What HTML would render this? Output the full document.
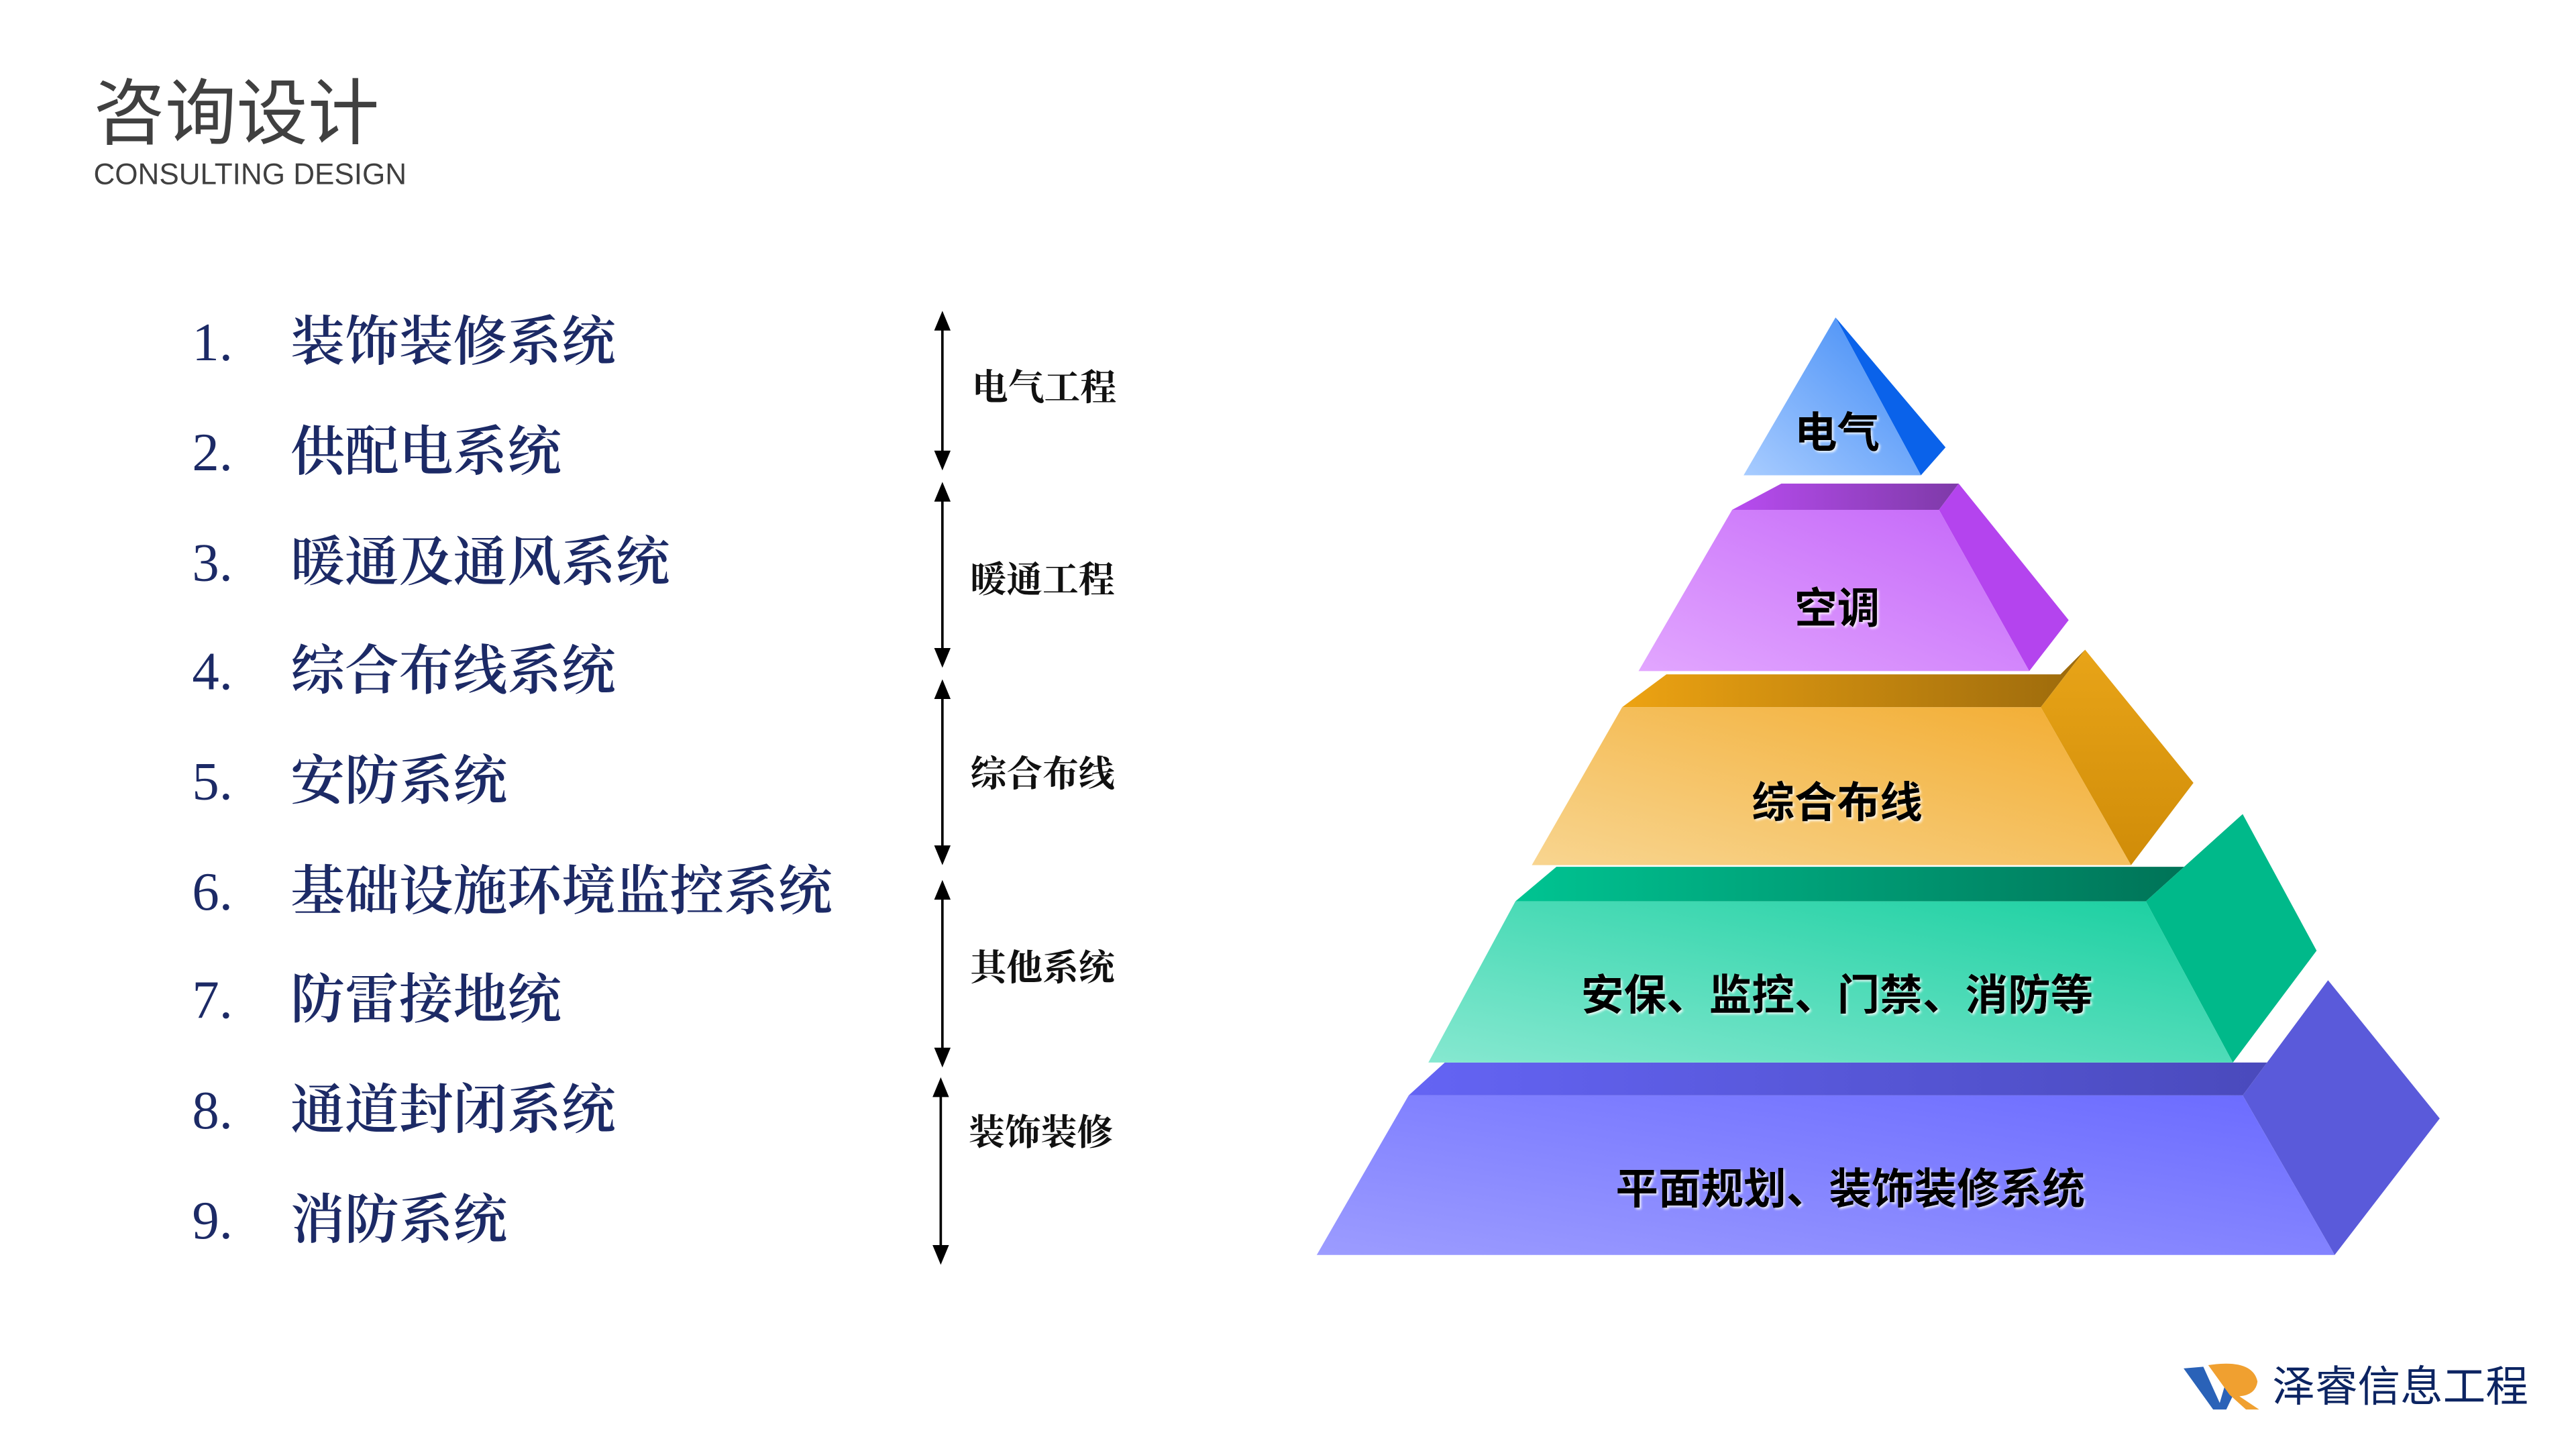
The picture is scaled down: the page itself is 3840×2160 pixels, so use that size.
<!DOCTYPE html>
<html><head><meta charset="utf-8"><style>
html,body{margin:0;padding:0;background:#fff;}
svg{display:block;}
.t{font-family:"Liberation Sans","Noto Sans CJK SC",sans-serif;}
.s{font-family:"Liberation Serif","Noto Serif CJK SC",serif;}
</style></head><body>
<svg width="3840" height="2160" viewBox="0 0 1569 881" preserveAspectRatio="none" xmlns="http://www.w3.org/2000/svg">
<defs>
<linearGradient id="bF" x1="0" y1="1" x2="1" y2="0"><stop offset="0" stop-color="#a8ccff"/><stop offset="1" stop-color="#3c88f5"/></linearGradient>
<linearGradient id="pF" x1="0" y1="1" x2="1" y2="0"><stop offset="0" stop-color="#e2a6ff"/><stop offset="1" stop-color="#c466f8"/></linearGradient>
<linearGradient id="pT" x1="0" y1="0" x2="1" y2="0"><stop offset="0" stop-color="#b84cf0"/><stop offset="1" stop-color="#7e3aa8"/></linearGradient>
<linearGradient id="oF" x1="0" y1="1" x2="1" y2="0"><stop offset="0" stop-color="#f8d590"/><stop offset="1" stop-color="#f2ac30"/></linearGradient>
<linearGradient id="oT" x1="0" y1="0" x2="1" y2="0"><stop offset="0" stop-color="#eda312"/><stop offset="1" stop-color="#9c6a0c"/></linearGradient>
<linearGradient id="oS" x1="0" y1="0" x2="0" y2="1"><stop offset="0" stop-color="#e8a418"/><stop offset="1" stop-color="#d08c08"/></linearGradient>
<linearGradient id="gF" x1="0" y1="1" x2="1" y2="0"><stop offset="0" stop-color="#86e8d0"/><stop offset="1" stop-color="#18cfa0"/></linearGradient>
<linearGradient id="gT" x1="0" y1="0" x2="1" y2="0"><stop offset="0" stop-color="#00c492"/><stop offset="1" stop-color="#006c52"/></linearGradient>
<linearGradient id="iF" x1="0" y1="1" x2="1" y2="0"><stop offset="0" stop-color="#9c9cff"/><stop offset="1" stop-color="#6a6aff"/></linearGradient>
<linearGradient id="iT" x1="0" y1="0" x2="1" y2="0"><stop offset="0" stop-color="#6464f4"/><stop offset="1" stop-color="#4848b8"/></linearGradient>
<filter id="sh"><feDropShadow dx="1" dy="1" stdDeviation="0.6" flood-color="#fff" flood-opacity="0.8"/></filter>
</defs>

<text class="t" x="57" y="84" font-size="43.5" fill="#404040">咨询设计</text>
<text class="t" x="57" y="112" font-size="18" fill="#404040">CONSULTING DESIGN</text>

<g class="s" font-size="33" fill="#1c2a66">
<g font-weight="normal">
<text x="117" y="219">1.</text><text x="117" y="286">2.</text><text x="117" y="353">3.</text>
<text x="117" y="419">4.</text><text x="117" y="486">5.</text><text x="117" y="553">6.</text>
<text x="117" y="619">7.</text><text x="117" y="686">8.</text><text x="117" y="753">9.</text>
</g>
<g font-weight="600">
<text x="177" y="219">装饰装修系统</text>
<text x="177" y="286">供配电系统</text>
<text x="177" y="353">暖通及通风系统</text>
<text x="177" y="419">综合布线系统</text>
<text x="177" y="486">安防系统</text>
<text x="177" y="553">基础设施环境监控系统</text>
<text x="177" y="619">防雷接地统</text>
<text x="177" y="686">通道封闭系统</text>
<text x="177" y="753">消防系统</text>
</g>
</g>

<g stroke="#000" stroke-width="1.5" fill="#000">
<line x1="574" y1="196" x2="574" y2="279"/><path d="M569 201 L574 189 L579 201Z M569 274 L574 286 L579 274Z" stroke="none"/>
<line x1="574" y1="299" x2="574" y2="399"/><path d="M569 305 L574 293 L579 305Z M569 394 L574 406 L579 394Z" stroke="none"/>
<line x1="574" y1="419" x2="574" y2="519"/><path d="M569 425 L574 413 L579 425Z M569 514 L574 526 L579 514Z" stroke="none"/>
<line x1="574" y1="541" x2="574" y2="642"/><path d="M569 547 L574 535 L579 547Z M569 637 L574 649 L579 637Z" stroke="none"/>
<line x1="573" y1="661" x2="573" y2="763"/><path d="M568 667 L573 655 L578 667Z M568 757 L573 769 L578 757Z" stroke="none"/>
</g>
<g class="s" font-size="22" font-weight="bold" fill="#111">
<text x="592" y="243">电气工程</text>
<text x="591" y="360">暖通工程</text>
<text x="591" y="478">综合布线</text>
<text x="591" y="596">其他系统</text>
<text x="590" y="696">装饰装修</text>
</g>

<polygon points="858,666 880,646 1390,646 1418,596 1366,666" fill="url(#iT)"/>
<polygon points="1366,666 1418,596 1486,680 1422,763" fill="#5a5ada"/>
<polygon points="858,666 1366,666 1422,763 802,763" fill="url(#iF)"/>
<polygon points="923,548 948,527 1340,527 1366,495 1307,548" fill="url(#gT)"/>
<polygon points="1307,548 1366,495 1411,578 1360,646" fill="#00b98a"/>
<polygon points="923,548 1307,548 1360,646 870,646" fill="url(#gF)"/>
<polygon points="988,430 1015,410 1255,410 1270,395 1243,430" fill="url(#oT)"/>
<polygon points="1243,430 1270,395 1336,476 1298,526" fill="url(#oS)"/>
<polygon points="988,430 1243,430 1298,526 933,526" fill="url(#oF)"/>
<polygon points="1055,310 1085,294 1193,294 1181,310" fill="url(#pT)"/>
<polygon points="1181,310 1193,294 1260,377 1236,408" fill="#b444ee"/>
<polygon points="1055,310 1181,310 1236,408 998,408" fill="url(#pF)"/>
<polygon points="1118,193 1185,272 1170,289" fill="#0a62ea"/>
<polygon points="1118,193 1170,289 1062,289" fill="url(#bF)"/>

<g class="t" font-size="26" font-weight="bold" fill="#000" text-anchor="middle" filter="url(#sh)">
<text x="1119" y="272">电气</text>
<text x="1119" y="379">空调</text>
<text x="1119" y="497">综合布线</text>
<text x="1119" y="614">安保、监控、门禁、消防等</text>
<text x="1127" y="732">平面规划、装饰装修系统</text>
</g>

<path d="M1330 832 L1342 831 L1352 853 L1357 836 L1366 836 L1356 857 L1348 857 Z" fill="#2a62b8"/>
<path d="M1345 830 Q1372 826 1375 840 Q1374 848 1364 849 L1376 857 L1368 857 L1358 848 Z" fill="#f0a030"/>
<text class="t" x="1384" y="852" font-size="26" fill="#0c2462">泽睿信息工程</text>
</svg>
</body></html>
